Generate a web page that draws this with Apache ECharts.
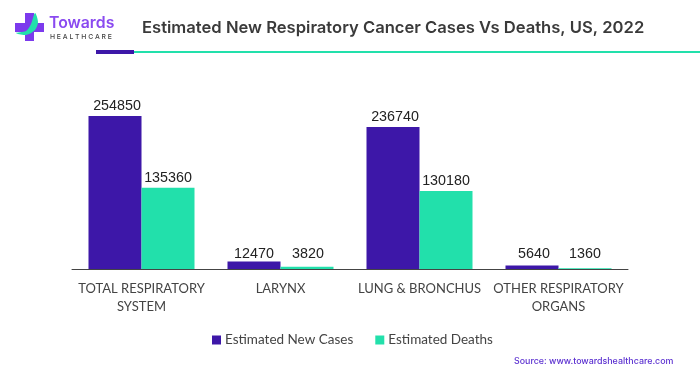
<!DOCTYPE html>
<html>
<head>
<meta charset="utf-8">
<style>
  html, body { margin: 0; padding: 0; background: #fff; }
  #chart { width: 700px; height: 375px; }
</style>
<script src="https://cdn.jsdelivr.net/npm/echarts@6/dist/echarts.min.js"></script>
</head>
<body>
<div id="chart"></div>
<script>
const categories = ['TOTAL RESPIRATORY\nSYSTEM', 'LARYNX', 'LUNG & BRONCHUS', 'OTHER RESPIRATORY\nORGANS'];
const newCases = [254850, 12470, 236740, 5640];
const deaths = [135360, 3820, 130180, 1360];

// the labels of the two small groups sit on one line in the original
const newCasesLabelOffset = [[2, 0], [0, 3], [2, 0], [2, -2]];
const deathsLabelOffset = [[0, 0], [1, -3], [0, 0], [0, -4]];

const PURPLE = '#3d17a8';
const TEAL = '#22e0ab';

const chart = echarts.init(document.getElementById('chart'));

const labelStyle = {
  show: true,
  position: 'top',
  distance: 3,
  color: '#222',
  fontFamily: 'Liberation Sans',
  fontSize: 14.3
};

function withOffsets(values, offsets) {
  return values.map((value, i) => ({ value, label: { offset: offsets[i] } }));
}

chart.setOption({
  animation: false,
  title: {
    text: 'Estimated New Respiratory Cancer Cases Vs Deaths, US, 2022',
    left: 142,
    top: 19,
    padding: 0,
    textStyle: { fontFamily: 'Inter', fontWeight: 600, fontSize: 16.6, color: '#3a3a3a' }
  },
  legend: {
    bottom: 28,
    left: 212,
    padding: 0,
    itemWidth: 9,
    itemHeight: 9,
    itemGap: 22,
    icon: 'rect',
    textStyle: { fontFamily: 'Lato', fontSize: 13.5, color: '#444', padding: [0, 0, 0, -1] }
  },
  grid: { left: 72, right: 72, top: 89, bottom: 106 },
  xAxis: {
    type: 'category',
    data: categories,
    axisTick: { show: false },
    axisLine: { lineStyle: { color: '#444', width: 1 } },
    axisLabel: {
      interval: 0,
      margin: 11,
      fontFamily: 'Lato',
      fontSize: 13,
      lineHeight: 18,
      color: '#444'
    }
  },
  yAxis: { type: 'value', min: 0, max: 300000, show: false, splitLine: { show: false } },
  series: [
    { name: 'Estimated New Cases', type: 'bar', data: withOffsets(newCases, newCasesLabelOffset), barWidth: 53, barGap: 0,
      itemStyle: { color: PURPLE }, label: labelStyle },
    { name: 'Estimated Deaths', type: 'bar', data: withOffsets(deaths, deathsLabelOffset), barWidth: 53,
      itemStyle: { color: TEAL }, label: labelStyle }
  ],
  graphic: [
    // header rule
    { type: 'rect', shape: { x: 134, y: 51, width: 566, height: 2 }, style: { fill: TEAL } },
    { type: 'rect', shape: { x: 96, y: 50, width: 38, height: 4 }, style: { fill: PURPLE } },
    // logo
    { type: 'rect', shape: { x: 25, y: 13, width: 9, height: 28 }, style: { fill: '#7c3aed' } },
    { type: 'rect', shape: { x: 15, y: 23, width: 29, height: 9 }, style: { fill: '#7c3aed' } },
    { type: 'polygon', shape: { points: [[16, 33], [26, 31], [31, 24], [35, 13], [38, 22], [35, 30], [26, 35]], smooth: 0.3 },
      style: { fill: TEAL } },
    { type: 'text', x: 49, y: 15, style: { text: 'Towards', fontFamily: 'Inter', fontWeight: 600, fontSize: 15.8, fill: '#8a4af0' } },
    { type: 'text', x: 50, y: 33, style: { text: 'H E A L T H C A R E', fontFamily: 'Inter', fontSize: 6.8, fontWeight: 500, fill: '#444' } },
    // source
    { type: 'text', x: 514, y: 357, style: { text: 'Source: www.towardshealthcare.com', fontFamily: 'Inter', fontSize: 8.9, fontWeight: 500, fill: '#5a2fd0' } }
  ]
});
</script>
</body>
</html>
